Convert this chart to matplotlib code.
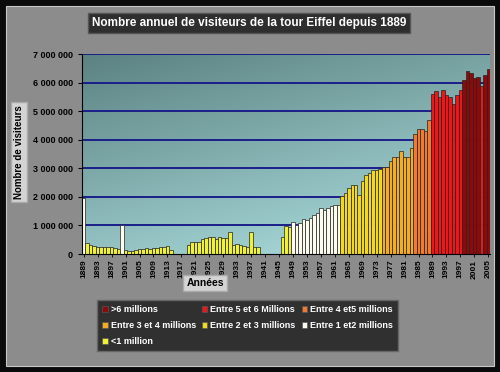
import matplotlib
matplotlib.use('Agg')
import matplotlib.pyplot as plt
import numpy as np
from matplotlib.patches import Patch, Rectangle
from matplotlib.ticker import FuncFormatter

plt.rcParams['font.family'] = ['Liberation Sans', 'DejaVu Sans']
plt.rcParams['font.weight'] = 'bold'

# Data: annual visitors (millions), 1889-2005
years = list(range(1889, 2006))
visitors = [
    1.97, 0.39, 0.32, 0.27, 0.26, 0.25, 0.25, 0.24, 0.23, 0.21,   # 1889-1898
    0.16, 1.02, 0.13, 0.12, 0.12, 0.15, 0.17, 0.19, 0.20, 0.19,   # 1899-1908
    0.20, 0.21, 0.23, 0.24, 0.27, 0.15, 0.0, 0.0, 0.0, 0.0,       # 1909-1918
    0.32, 0.41, 0.41, 0.41, 0.51, 0.55, 0.59, 0.61, 0.51, 0.59,   # 1919-1928
    0.55, 0.55, 0.78, 0.30, 0.34, 0.30, 0.27, 0.25, 0.78, 0.24,   # 1929-1938
    0.23, 0.0, 0.0, 0.0, 0.0, 0.0, 0.0, 0.60, 0.98, 0.94,         # 1939-1948
    1.13, 1.02, 1.10, 1.22, 1.19, 1.27, 1.38, 1.44, 1.61, 1.55,   # 1949-1958
    1.62, 1.67, 1.70, 1.70, 2.02, 2.13, 2.30, 2.41, 2.41, 2.05,   # 1959-1968
    2.54, 2.76, 2.85, 2.95, 2.95, 2.97, 3.03, 3.03, 3.27, 3.41,   # 1969-1978
    3.41, 3.59, 3.39, 3.39, 3.71, 4.20, 4.37, 4.37, 4.32, 4.70,   # 1979-1988
    5.60, 5.72, 5.49, 5.75, 5.56, 5.49, 5.26, 5.55, 5.73, 6.08,   # 1989-1998
    6.40, 6.34, 6.16, 6.20, 5.89, 6.28, 6.49,                     # 1999-2005
]

cat_labels = ['>6 millions', 'Entre 5 et 6 Millions', 'Entre 4 et5 millions',
              'Entre 3 et 4 millions', 'Entre 2 et 3 millions', 'Entre 1 et2 millions',
              '<1 million']
cat_low = [6, 5, 4, 3, 2, 1, 0]
cat_colors = ['#8e0a0a', '#ee1616', '#f07a2e', '#f2ad22', '#f2d820', '#fbfbee', '#eef03a']

def color_for(v):
    for low, c in zip(cat_low, cat_colors):
        if v >= low:
            return c
    return cat_colors[-1]

fig = plt.figure(figsize=(5, 3.72), dpi=100)
fig.patch.set_facecolor('#0a0a0a')
fig.patches.append(Rectangle((6/500, 6/372), 488/500, 360/372, transform=fig.transFigure,
                             facecolor='#8c8c8c', edgecolor='#c8c8c8', lw=0.8, zorder=-1))

ax = fig.add_axes([82/500, 1 - 254/372, 408/500, 200/372])
ax.set_facecolor('none')

# gradient background of plot area
gx, gy = np.meshgrid(np.linspace(0, 1, 200), np.linspace(0, 1, 200))
t = np.clip(0.7 * gy + 0.35 * gx, 0, 1)
c0 = np.array([92, 130, 130]) / 255
c1 = np.array([172, 222, 222]) / 255
img = c0 + (c1 - c0) * t[..., None]
ax.imshow(img, extent=[0, 1, 0, 1], transform=ax.transAxes, aspect='auto', zorder=0, origin='upper')

x = np.arange(len(years))
for m in range(1, 8):
    ax.axhline(m * 1e6, color='#1b1f8a', lw=1.4, zorder=1)
ax.bar(x, np.array(visitors) * 1e6, width=1.0, color=[color_for(v) for v in visitors],
       edgecolor='#222222', lw=0.5, zorder=2)

ax.set_xlim(-0.5, len(years) - 0.5)
ax.set_ylim(0, 7e6)
ax.set_yticks(np.arange(0, 8) * 1e6)
ax.yaxis.set_major_formatter(FuncFormatter(lambda v, p: f'{int(v):,}'.replace(',', ' ')))
ax.set_xticks(x[::4])
ax.set_xticklabels([str(y) for y in years[::4]], rotation=90, fontsize=6, fontweight='bold')
ax.tick_params(axis='y', labelsize=6.5, length=3, width=0.8, colors='black')
ax.tick_params(axis='x', length=2.5, width=0.6, pad=1.5)
for s in ['top', 'right']:
    ax.spines[s].set_visible(False)
ax.spines['left'].set_color('black')
ax.spines['bottom'].set_color('black')

fig.text(249/500, 1 - 23/372, 'Nombre annuel de visiteurs de la tour Eiffel depuis 1889',
         ha='center', va='center', color='white', fontsize=8.5, fontweight='bold',
         bbox=dict(facecolor='#2e2e2e', edgecolor='#555555', boxstyle='square,pad=0.35'))
fig.text(19/500, 1 - 152/372, 'Nombre de visiteurs', rotation=90, ha='center', va='center',
         fontsize=7, fontweight='bold', color='black',
         bbox=dict(facecolor='#d4d4d4', edgecolor='#aaaaaa', boxstyle='square,pad=0.3'))
fig.text(205/500, 1 - 283/372, 'Années', ha='center', va='center', fontsize=7.5,
         fontweight='bold', color='black',
         bbox=dict(facecolor='#d4d4d4', edgecolor='#aaaaaa', boxstyle='square,pad=0.3'))

handles = [Patch(facecolor=c, edgecolor='#555555', lw=0.5, label=l)
           for l, c in zip(cat_labels, cat_colors)]
order = [0, 3, 6, 1, 4, 2, 5]
leg = fig.legend([handles[i] for i in order], [cat_labels[i] for i in order],
                 ncol=3, loc='upper left', bbox_to_anchor=(97/500, 1 - 353/372, 301/500, 53/372),
                 mode='expand', fancybox=False, frameon=True, facecolor='#303030',
                 edgecolor='#666666', framealpha=1, fontsize=6.5, handlelength=0.6,
                 handleheight=0.6, handletextpad=0.3, borderpad=0.6, labelspacing=0.75,
                 borderaxespad=0)
for txt in leg.get_texts():
    txt.set_color('white')
    txt.set_fontweight('bold')

fig.savefig('out.png', dpi=100, facecolor=fig.get_facecolor())
